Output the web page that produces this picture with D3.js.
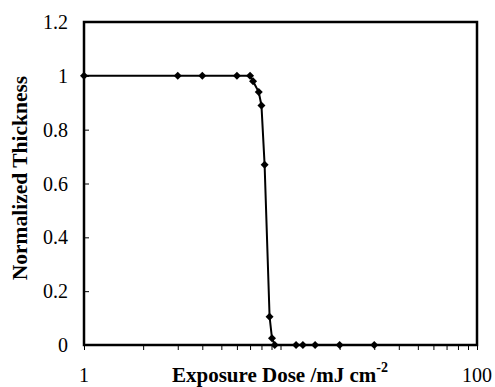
<!DOCTYPE html>
<html><head><meta charset="utf-8">
<script src="https://cdn.jsdelivr.net/npm/d3@7/dist/d3.min.js"></script>
<style>body{margin:0;background:#fff}svg{display:block}
text{font-family:"Liberation Serif","Times New Roman",Times,"DejaVu Serif",serif}</style>
</head><body>
<script>
const doses = [1, 3, 4, 6, 7, 7.25, 7.75, 8, 8.3, 8.8, 9.05, 9.35, 12, 13, 15, 20, 30];
const thickness = [1, 1, 1, 1, 1, 0.98, 0.94, 0.89, 0.67, 0.105, 0.025, 0, 0, 0, 0, 0, 0];
const yTicks = [0, 0.2, 0.4, 0.6, 0.8, 1, 1.2];
const yTickLabels = ["0", "0.2", "0.4", "0.6", "0.8", "1", "1.2"];
const xLabelValues = [1, 100];
const xLabelTexts = ["1", "100"];

const W = 495, H = 387;
const m = {l: 84, r: 477, t: 22, b: 345};
const svg = d3.select("body").append("svg").attr("width", W).attr("height", H);
const x = d3.scaleLog().domain([1, 100]).range([m.l, m.r]);
const y = d3.scaleLinear().domain([0, 1.2]).range([m.b, m.t]);

const xTickVals = [];
for (let d = 1; d <= 10; d *= 10) for (let k = 1; k <= 9; k++) xTickVals.push(k * d);
xTickVals.push(100);
const xAxis = d3.axisBottom(x).tickValues(xTickVals).tickSize(5).tickFormat("");
const gx = svg.append("g").attr("transform", `translate(0,${m.b})`).call(xAxis);
gx.select(".domain").remove();
gx.selectAll(".tick line").attr("stroke", "#000").attr("stroke-width", 1);

const yAxis = d3.axisRight(y).tickValues(yTicks).tickSize(5).tickFormat("");
const gy = svg.append("g").attr("transform", `translate(${m.l},0)`).call(yAxis);
gy.select(".domain").remove();
gy.selectAll(".tick line").attr("stroke", "#000").attr("stroke-width", 1);

svg.append("rect").attr("x", m.l).attr("y", m.t).attr("width", m.r - m.l).attr("height", m.b - m.t)
  .attr("fill", "none").attr("stroke", "#000").attr("stroke-width", 2.5);

svg.append("g").selectAll("text").data(yTicks).join("text")
  .attr("x", 68).attr("y", d => y(d)).attr("dy", "0.35em")
  .attr("text-anchor", "end").attr("font-size", 20)
  .text((d, i) => yTickLabels[i]);

svg.append("g").selectAll("text").data(xLabelValues).join("text")
  .attr("x", d => x(d)).attr("y", 382)
  .attr("text-anchor", "middle").attr("font-size", 20)
  .text((d, i) => xLabelTexts[i]);

const xt = svg.append("text").attr("x", 280).attr("y", 382).attr("text-anchor", "middle")
  .attr("font-size", 21).attr("font-weight", "bold");
xt.append("tspan").text("Exposure Dose /mJ cm");
xt.append("tspan").attr("dy", -10).attr("font-size", 14).text("-2");

svg.append("text").attr("transform", `translate(27,178) rotate(-90)`)
  .attr("text-anchor", "middle").attr("font-size", 21.5).attr("font-weight", "bold")
  .text("Normalized Thickness");

const pts = doses.map((d, i) => [d, thickness[i]]);
svg.append("path").datum(pts)
  .attr("d", d3.line().x(d => x(d[0])).y(d => y(d[1])))
  .attr("fill", "none").attr("stroke", "#000").attr("stroke-width", 2);

svg.append("g").selectAll("path").data(pts).join("path")
  .attr("transform", d => `translate(${x(d[0])},${y(d[1])})`)
  .attr("d", "M0,-4L4,0L0,4L-4,0Z").attr("fill", "#000");
</script>
</body></html>
